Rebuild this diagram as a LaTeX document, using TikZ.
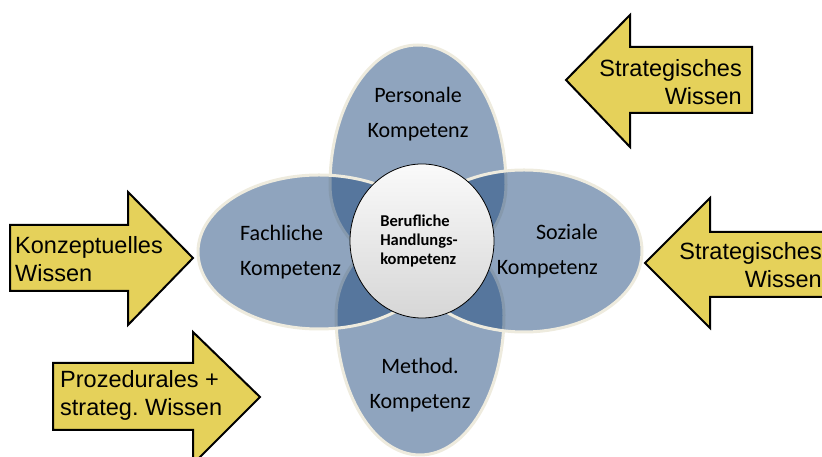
\documentclass[tikz,border=0pt]{standalone}
\usepackage{fontspec}
\setmainfont{Carlito}
\newfontfamily\arialfont{Liberation Sans}
\usepackage{tikz}
\definecolor{petalblue}{RGB}{31,73,125}
\definecolor{petalrim}{RGB}{238,235,222}
\definecolor{arrowyellow}{RGB}{229,209,90}
\frenchspacing

\begin{document}
\begin{tikzpicture}[x=1pt,y=1pt,
    petal/.style={fill=petalblue,fill opacity=0.5,draw=petalrim,line width=3pt},
    wissen/.style={fill=arrowyellow,draw=black,line width=2pt,line join=miter},
    kompetenz/.style={inner sep=0pt,font=\fontsize{22}{35}\selectfont},
    wissentext/.style={inner sep=0pt,font=\arialfont\fontsize{23.5}{28}\selectfont}]
  \useasboundingbox (0,0) rectangle (822,457);
  \clip (0,0) rectangle (822,457);

  % the four petals, vertical ones first
  \begin{scope}
    \draw[petal] (330,272) arc[start angle=180,end angle=0,x radius=88,y radius=140]
      arc[start angle=0,end angle=-180,x radius=88,y radius=85] -- cycle;
    \draw[petal] (336,142) arc[start angle=180,end angle=360,x radius=84,y radius=140]
      arc[start angle=0,end angle=180,x radius=84,y radius=85] -- cycle;
    \draw[petal] (319,205) ellipse[x radius=121,y radius=77];
    \draw[petal] (524,206) ellipse[x radius=118,y radius=81];
  \end{scope}

  % centre
  \draw[black,line width=0.8pt,top color=gray!4,bottom color=gray!32]
    (422,216) ellipse[x radius=72,y radius=77];
  \node[inner sep=0pt,align=left,font=\bfseries\fontsize{16.5}{18.7}\selectfont]
    (beruf) at (419,216) {Berufliche\\Handlungs-\\kompetenz};

  \node[kompetenz,align=center] (personal) at (418,342.5) {Personale\\Kompetenz};
  \node[kompetenz,align=left,anchor=west] (fach) at (240,204.5) {Fachliche\\Kompetenz};
  \node[kompetenz,align=right,anchor=east] (sozial) at (598,205.5) {Soziale\\Kompetenz};
  \node[kompetenz,align=center] (method) at (420,72) {Method.\\Kompetenz};

  % block arrows pointing right
  \draw[wissen] (10,166) -- (10,232) -- (128,232) -- (128,265) -- (193,199)
    -- (128,132) -- (128,166) -- cycle;
  \node[wissentext,align=left,anchor=west] (konzept) at (15,198) {Konzeptuelles\\Wissen};

  \draw[wissen] (53,27) -- (53,94) -- (193,94) -- (193,125) -- (260,60)
    -- (193,-7) -- (193,27) -- cycle;
  \node[wissentext,align=left,anchor=west] (prozed) at (60,62) {Prozedurales +\\strateg. Wissen};

  % block arrows pointing left
  \draw[wissen] (752,344) -- (752,410) -- (630,410) -- (630,442) -- (566,377)
    -- (630,310) -- (630,344) -- cycle;
  \node[wissentext,align=right,anchor=east] (strat1) at (742,374.5) {Strategisches\\Wissen};

  \draw[wissen] (840,160) -- (840,225) -- (710,225) -- (710,259) -- (645,194)
    -- (710,129) -- (710,160) -- cycle;
  \node[wissentext,align=right,anchor=east] (strat2) at (822,192) {Strategisches\\Wissen};
\end{tikzpicture}
\end{document}
